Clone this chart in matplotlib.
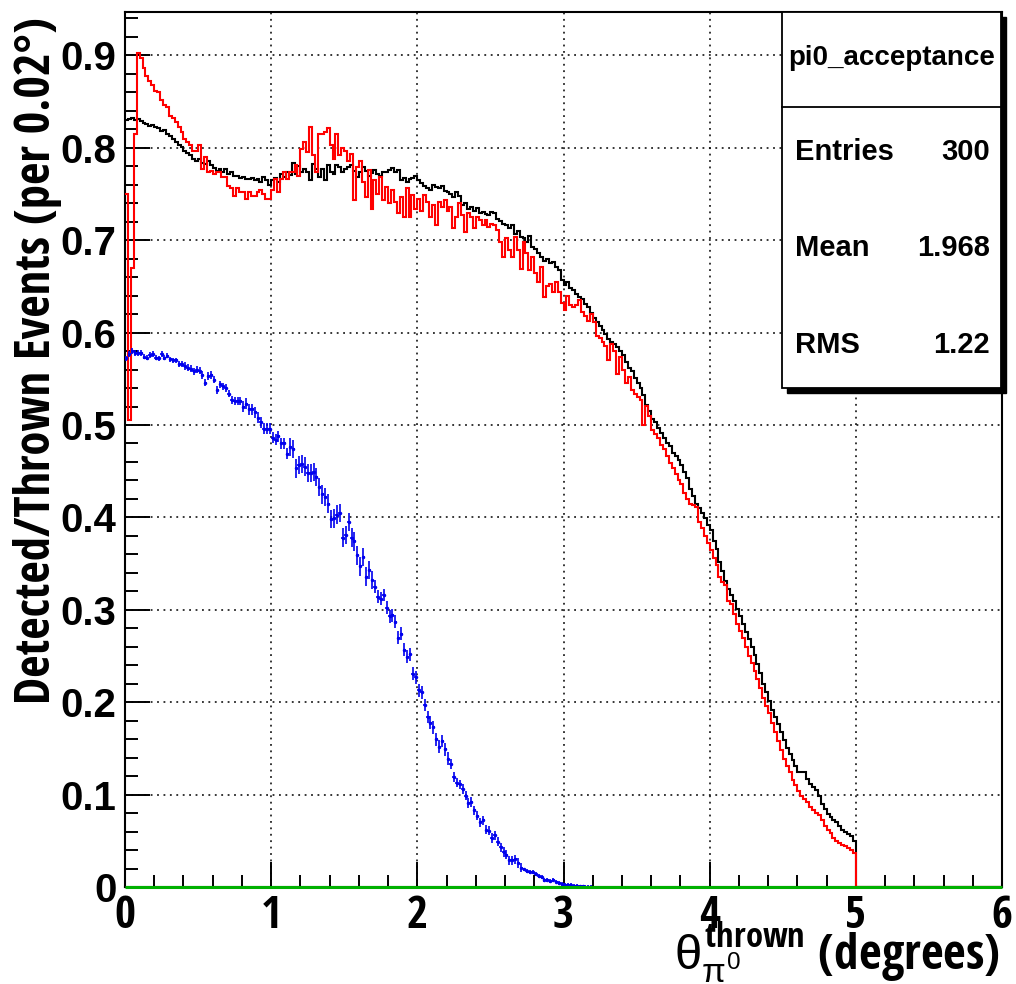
import numpy as np
import matplotlib
matplotlib.use("Agg")
import matplotlib.pyplot as plt
import matplotlib.font_manager as fm
from matplotlib.textpath import TextToPath
from matplotlib.patches import Rectangle
from matplotlib.lines import Line2D
from matplotlib.ticker import MultipleLocator, FuncFormatter

# --- data: detected/thrown ratio per 0.02 deg bin ---
bin_width = 0.02
n_bins = 300  # 0..6 deg

# black histogram, bins 0..249 (0 - 5 deg)
black = [
    0.830, 0.831, 0.832, 0.830, 0.831, 0.829, 0.827, 0.826, 0.824, 0.825,
    0.822, 0.821, 0.818, 0.819, 0.815, 0.813, 0.810, 0.806, 0.803, 0.801,
    0.797, 0.794, 0.792, 0.788, 0.786, 0.788, 0.784, 0.783, 0.786, 0.781,
    0.778, 0.775, 0.777, 0.774, 0.777, 0.772, 0.774, 0.770, 0.769, 0.767,
    0.768, 0.766, 0.766, 0.767, 0.765, 0.766, 0.763, 0.768, 0.765, 0.760,
    0.765, 0.767, 0.763, 0.772, 0.768, 0.774, 0.771, 0.784, 0.772, 0.780,
    0.774, 0.777, 0.774, 0.765, 0.782, 0.777, 0.768, 0.777, 0.765, 0.781,
    0.774, 0.772, 0.781, 0.779, 0.774,
    0.777, 0.779, 0.781, 0.775, 0.768, 0.774, 0.779, 0.775, 0.770, 0.773,
    0.776, 0.772, 0.770, 0.774, 0.774, 0.776, 0.778, 0.774, 0.776, 0.765,
    0.767, 0.763, 0.766, 0.767, 0.770, 0.765, 0.762, 0.759, 0.757, 0.754,
    0.760, 0.758, 0.756, 0.759, 0.753, 0.752, 0.750, 0.747, 0.752, 0.748,
    0.738, 0.740, 0.734, 0.736, 0.732, 0.735, 0.729, 0.731, 0.728, 0.727,
    0.731, 0.729, 0.723, 0.721, 0.718, 0.716, 0.713, 0.716, 0.707, 0.710,
    0.704, 0.702, 0.698, 0.705, 0.693, 0.690, 0.686, 0.682, 0.678, 0.680,
    0.675, 0.676, 0.671, 0.668, 0.657,
    0.652, 0.655, 0.648, 0.646, 0.642, 0.639, 0.636, 0.631, 0.628, 0.621,
    0.616, 0.612, 0.607, 0.603, 0.598, 0.593, 0.590, 0.588, 0.584, 0.580,
    0.576, 0.568, 0.562, 0.558, 0.551, 0.545, 0.540, 0.532, 0.522, 0.515,
    0.507, 0.503, 0.497, 0.491, 0.486, 0.480, 0.477, 0.470, 0.466, 0.462,
    0.457, 0.449, 0.443, 0.431, 0.423, 0.415, 0.410, 0.405, 0.399, 0.392,
    0.386, 0.375, 0.366, 0.352, 0.342, 0.331, 0.323, 0.316, 0.309, 0.301,
    0.293, 0.285, 0.276, 0.268, 0.260, 0.251, 0.241, 0.232, 0.220, 0.211,
    0.201, 0.192, 0.184, 0.176, 0.168, 0.159, 0.150, 0.144, 0.137, 0.131,
    0.125, 0.125, 0.125, 0.117, 0.112, 0.108, 0.105, 0.098, 0.090, 0.084,
    0.079, 0.076, 0.073, 0.070, 0.066, 0.062, 0.060, 0.057, 0.055, 0.050,
]

# red histogram, bins 0..249
red = [
    0.750, 0.505, 0.670, 0.815, 0.903, 0.897,
    0.886, 0.878, 0.872, 0.868, 0.862, 0.860, 0.852, 0.846, 0.844, 0.834,
    0.832, 0.828, 0.822, 0.817, 0.810, 0.806, 0.803, 0.797, 0.797, 0.803,
    0.777, 0.790, 0.774, 0.775, 0.772, 0.774, 0.774, 0.768, 0.768, 0.759,
    0.756, 0.748, 0.756, 0.752, 0.752, 0.745, 0.752, 0.748, 0.748, 0.752,
    0.754, 0.750, 0.745, 0.745, 0.754, 0.766, 0.752, 0.766, 0.774, 0.766,
    0.774, 0.774, 0.781, 0.770, 0.799, 0.806, 0.795, 0.822, 0.792, 0.774,
    0.815, 0.815, 0.817, 0.821, 0.803, 0.788, 0.815, 0.792, 0.800,
    0.797, 0.786, 0.793, 0.743, 0.779, 0.786, 0.763, 0.747, 0.776, 0.734,
    0.765, 0.750, 0.768, 0.743, 0.758, 0.740, 0.754, 0.741, 0.729, 0.747,
    0.725, 0.756, 0.725, 0.749, 0.734, 0.745, 0.732, 0.749, 0.741, 0.725,
    0.738, 0.716, 0.741, 0.736, 0.743, 0.732, 0.736, 0.713, 0.725, 0.740,
    0.727, 0.709, 0.729, 0.725, 0.713, 0.725, 0.722, 0.716, 0.722, 0.714,
    0.718, 0.716, 0.711, 0.698, 0.682, 0.702, 0.689, 0.682, 0.704, 0.689,
    0.669, 0.698, 0.686, 0.668, 0.682, 0.664, 0.655, 0.671, 0.639, 0.650,
    0.653, 0.644, 0.655, 0.644, 0.632,
    0.624, 0.640, 0.630, 0.628, 0.630, 0.635, 0.622, 0.618, 0.613, 0.620,
    0.612, 0.596, 0.594, 0.590, 0.585, 0.570, 0.588, 0.580, 0.555, 0.574,
    0.560, 0.545, 0.552, 0.538, 0.534, 0.530, 0.527, 0.500, 0.521, 0.510,
    0.495, 0.490, 0.486, 0.478, 0.474, 0.466, 0.459, 0.454, 0.447, 0.440,
    0.436, 0.426, 0.420, 0.415, 0.413, 0.411, 0.395, 0.389, 0.380, 0.372,
    0.365, 0.356, 0.348, 0.335, 0.330, 0.327, 0.310, 0.306, 0.295, 0.285,
    0.277, 0.270, 0.260, 0.250, 0.242, 0.234, 0.225, 0.215, 0.205, 0.196,
    0.188, 0.178, 0.168, 0.158, 0.148, 0.138, 0.131, 0.124, 0.116, 0.110,
    0.104, 0.098, 0.095, 0.092, 0.087, 0.083, 0.080, 0.078, 0.072, 0.066,
    0.062, 0.058, 0.053, 0.050, 0.048, 0.045, 0.044, 0.042, 0.040, 0.037,
]

# blue points with error bars, bins 0..159
blue = [
    0.572, 0.577, 0.580, 0.578, 0.578, 0.578, 0.574, 0.573, 0.576, 0.577,
    0.573, 0.572, 0.577, 0.573, 0.575, 0.571, 0.570, 0.570, 0.566, 0.566,
    0.564, 0.562, 0.561, 0.558, 0.560, 0.559, 0.554, 0.546, 0.553, 0.554,
    0.549, 0.538, 0.544, 0.542, 0.540, 0.534, 0.527, 0.526, 0.526, 0.526,
    0.520, 0.523, 0.517, 0.517, 0.514, 0.508, 0.503, 0.496, 0.496, 0.496,
    0.486, 0.484, 0.488, 0.480, 0.480, 0.469, 0.476, 0.474, 0.453, 0.457,
    0.458, 0.455, 0.448, 0.448, 0.449, 0.444, 0.433, 0.425, 0.422, 0.415,
    0.398, 0.399, 0.403, 0.405, 0.378, 0.381, 0.395, 0.378, 0.374, 0.359,
    0.347, 0.357, 0.336, 0.343, 0.332, 0.325, 0.314, 0.312, 0.316, 0.302,
    0.293, 0.294, 0.287, 0.270, 0.274, 0.257, 0.249, 0.252, 0.231, 0.227,
    0.213, 0.211, 0.197, 0.184, 0.178, 0.173, 0.160, 0.152, 0.158, 0.149,
    0.139, 0.133, 0.119, 0.113, 0.111, 0.106, 0.099, 0.091, 0.092, 0.083,
    0.077, 0.070, 0.072, 0.062, 0.061, 0.053, 0.056, 0.049, 0.043, 0.038,
    0.035, 0.029, 0.029, 0.030, 0.026, 0.021, 0.019, 0.017, 0.016, 0.016,
    0.014, 0.012, 0.011, 0.0076, 0.0072, 0.0065, 0.0072, 0.0058, 0.0043, 0.0036,
    0.0025, 0.0022, 0.0018, 0.0011, 0.0011, 0.0007, 0.0007, 0.0004, 0.0004, 0.0002,
]
blue_err = ([0.003] * 20 + [0.004] * 20 + [0.006] * 16 + [0.010] * 29
            + [0.007] * 26 + [0.005] * 25 + [0.002] * 24)

x_ticks = [0, 1, 2, 3, 4, 5, 6]
y_title = "Detected/Thrown Events (per 0.02\u00b0)"
x_title = r"$\theta^{\mathbf{thrown}}_{\pi^{0}}$ (degrees)"
stats_title = "pi0_acceptance"
stats_rows = [("Entries", "300"), ("Mean", "1.968"), ("RMS", "1.22")]

# --- fonts: look for a condensed bold sans (ROOT axis titles are narrow) ---
ttp = TextToPath()

def width_of(text, prop):
    w, h, d = ttp.get_text_width_height_descent(text, prop, ismath=False)
    return w

cond_path = None
best = None
for f in fm.fontManager.ttflist:
    fn = f.fname.lower()
    if any(k in fn for k in ("mono", "serif", "cjk", "math", "italic", "oblique", "symbol", "emoji")):
        if "sans" not in fn or "mono" in fn or "italic" in fn or "oblique" in fn or "cjk" in fn:
            continue
    if not any(k in fn for k in ("narrow", "condensed", "cond")):
        continue
    if "bold" not in fn and f.weight not in ("bold", 700):
        continue
    if any(k in fn for k in ("extrabold", "semibold", "black", "light", "thin", "medium")):
        continue
    try:
        r = width_of("0", fm.FontProperties(fname=f.fname, size=100)) / 100.0
    except Exception:
        continue
    score = abs(r - 0.46)
    if best is None or score < best:
        best = score
        cond_path = f.fname

def cond(size):
    if cond_path:
        return fm.FontProperties(fname=cond_path, size=size)
    return fm.FontProperties(family="Liberation Sans", weight="bold", size=size)

cond_name = cond(10).get_name()

plt.rcParams["font.family"] = ["Liberation Sans", "DejaVu Sans"]
plt.rcParams["font.weight"] = "bold"
plt.rcParams["mathtext.fontset"] = "custom"
plt.rcParams["mathtext.rm"] = "Liberation Sans:normal"
plt.rcParams["mathtext.it"] = "Liberation Sans:normal"
plt.rcParams["mathtext.bf"] = cond_name + ":bold"

# --- figure ---
W, H = 1016, 984
def fx(px):
    return px / W
def fy(py):
    return 1 - py / H

def fit_size(text, prop_fn, target_px):
    # font size (pt) giving the wanted text length in pixels
    w = width_of(text, prop_fn(100))
    return 100 * target_px * 0.72 / w

fig = plt.figure(figsize=(W / 100, H / 100), dpi=100)
ax = fig.add_axes([fx(125), fy(887), fx(1002) - fx(125), fy(12) - fy(887)])

edges = np.arange(n_bins + 1) * bin_width
pad = [0.0] * (n_bins - len(black))
ax.stairs(np.array(black + pad), edges, baseline=None, color="black", lw=1.5, zorder=3)
ax.stairs(np.array(red + pad), edges, baseline=None, color="red", lw=1.5, zorder=3)

centers = (np.arange(len(blue)) + 0.5) * bin_width
ax.errorbar(centers, blue, yerr=blue_err, xerr=bin_width / 2, fmt="o", ms=1.5,
            color="#0000ee", ecolor="#0000ee", elinewidth=1.2, capsize=0, zorder=4)

# green (all zero) histogram across the full range
ax.stairs(np.zeros(n_bins), edges, baseline=None, color="#00b000", lw=2.2, zorder=5, clip_on=False)

ax.set_xlim(0, 6)
ax.set_ylim(0, 0.947)
ax.set_xticks(x_ticks)
ax.xaxis.set_minor_locator(MultipleLocator(0.2))
ax.yaxis.set_major_locator(MultipleLocator(0.1))
ax.yaxis.set_minor_locator(MultipleLocator(0.02))
ax.yaxis.set_major_formatter(FuncFormatter(lambda v, p: "0" if abs(v) < 1e-9 else f"{v:.1f}"))
ax.xaxis.set_major_formatter(FuncFormatter(lambda v, p: f"{v:.0f}"))
ax.tick_params(which="major", direction="in", length=18, width=1.4, top=False, right=False)
ax.tick_params(which="minor", direction="in", length=9, width=1.4, top=False, right=False)
ax.tick_params(axis="y", labelsize=29, pad=6)
ax.tick_params(axis="x", pad=5)
xt_prop = cond(fit_size("0", cond, 21))
for lab in ax.get_xticklabels():
    lab.set_fontproperties(xt_prop)
for lab in ax.get_yticklabels():
    lab.set_fontweight("bold")
for s in ax.spines.values():
    s.set_linewidth(1.5)
ax.grid(which="major", color="black", linestyle=(0, (1.2, 3)), lw=1.1)
ax.set_axisbelow(True)

# axis titles
fig.text(fx(38), fy(17), y_title, rotation=90, ha="center", va="top",
         fontproperties=cond(fit_size(y_title, cond, 688)))
fig.text(fx(1000), fy(970), x_title, ha="right", va="baseline",
         fontproperties=cond(fit_size("(degrees)", cond, 182)))

# stats box (ROOT style with shadow)
bx0, by0, bx1, by1 = 782, 12, 1001, 388
sh = 5
fig.add_artist(Rectangle((fx(bx0 + sh), fy(by1 + sh)), fx(bx1) - fx(bx0), fy(by0) - fy(by1),
                         transform=fig.transFigure, facecolor="black", edgecolor="black", zorder=9))
fig.add_artist(Rectangle((fx(bx0), fy(by1)), fx(bx1) - fx(bx0), fy(by0) - fy(by1),
                         transform=fig.transFigure, facecolor="white", edgecolor="black", lw=1.3, zorder=10))
fig.add_artist(Line2D([fx(bx0), fx(bx1)], [fy(107), fy(107)], transform=fig.transFigure,
                      color="black", lw=1.3, zorder=11))
fig.text(fx((bx0 + bx1) / 2), fy(58), stats_title, ha="center", va="center",
         fontsize=20, fontweight="bold", zorder=12)
for (name, val), yc in zip(stats_rows, [152, 248, 345]):
    fig.text(fx(795), fy(yc), name, ha="left", va="center", fontsize=21, fontweight="bold", zorder=12)
    fig.text(fx(990), fy(yc), val, ha="right", va="center", fontsize=21, fontweight="bold", zorder=12)

fig.savefig("out.png", dpi=100)
